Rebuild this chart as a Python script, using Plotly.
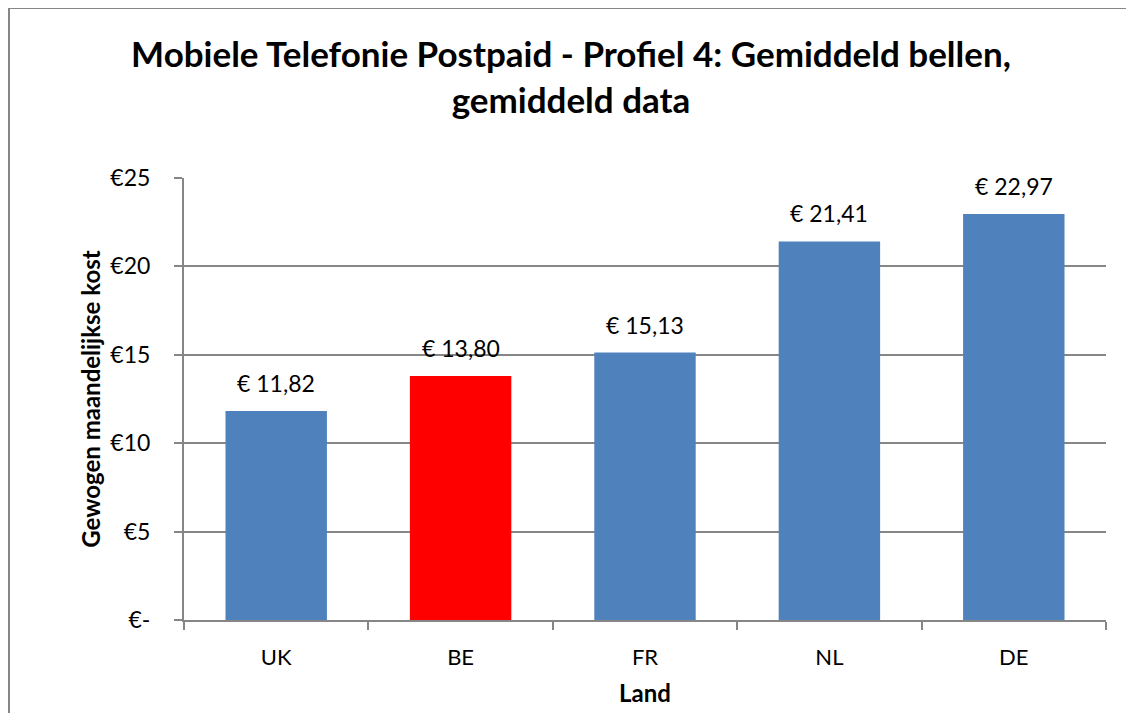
import plotly.graph_objects as go

countries = ["UK", "BE", "FR", "NL", "DE"]
values = [11.82, 13.80, 15.13, 21.41, 22.97]
bar_colors = ["#4F81BD", "#FF0000", "#4F81BD", "#4F81BD", "#4F81BD"]
y_tickvals = [0, 5, 10, 15, 20, 25]
y_ticktext = ["€-", "€5", "€10", "€15", "€20", "€25"]
labels = ["€ " + f"{v:.2f}".replace(".", ",") for v in values]

FONT = "Lato, 'Open Sans', sans-serif"
OFF = 8  # page body margin offset
W, H = 1134, 713
L, T = 184 - OFF, 178 - OFF
R = W - (1106 - OFF)
B = H - (620 - OFF)
pw, ph = W - L - R, H - T - B

fig = go.Figure(go.Bar(
    x=countries, y=values, marker=dict(color=bar_colors, line=dict(width=0)),
    cliponaxis=False, width=0.55,
))

for c, v, t in zip(countries, values, labels):
    fig.add_annotation(x=c, y=v, text=t, showarrow=False, yanchor="bottom", yshift=12,
                       font=dict(size=23, color="black", family=FONT))

fig.update_layout(
    width=W, height=H,
    margin=dict(l=L, r=R, t=T, b=B),
    paper_bgcolor="white", plot_bgcolor="white",
    font=dict(family=FONT, color="black"),
    showlegend=False,
    title=dict(
        text="<b>Mobiele Telefonie Postpaid - Profiel 4: Gemiddeld bellen,<br>gemiddeld data</b>",
        x=(571 - OFF) / W, xref="container", xanchor="center",
        y=1 - 59 / H, yref="container", yanchor="top",
        font=dict(size=35, color="black", family=FONT),
    ),
    xaxis=dict(
        showline=True, linecolor="#868686", linewidth=2,
        ticks="outside", tickson="boundaries", ticklen=8, tickcolor="#868686", tickwidth=2,
        tickfont=dict(size=22, color="black"), ticklabelstandoff=17,
        title=dict(text="<b>Land</b>", font=dict(size=24, color="black"), standoff=16),
    ),
    yaxis=dict(
        range=[0, 25], tickvals=y_tickvals, ticktext=y_ticktext,
        showline=True, linecolor="#868686", linewidth=2,
        ticks="outside", ticklen=8, tickcolor="#868686", tickwidth=2,
        showgrid=True, gridcolor="#868686", gridwidth=1.5,
        tickfont=dict(size=23, color="black"), ticklabelstandoff=19,
        title=dict(text="<b>Gewogen maandelijkse kost</b>", font=dict(size=24, color="black"), standoff=3),
        zeroline=False,
    ),
    shapes=[dict(
        type="rect", xref="paper", yref="paper",
        x0=(8 - OFF + 1 - L) / pw, x1=(W + 10 - L) / pw,
        y0=-(H + 10 - (T + ph)) / ph, y1=(T + ph - (7 - OFF + 1)) / ph,
        line=dict(color="#868686", width=2), fillcolor="rgba(0,0,0,0)", layer="below",
    )],
)

fig.write_html("out.html")
